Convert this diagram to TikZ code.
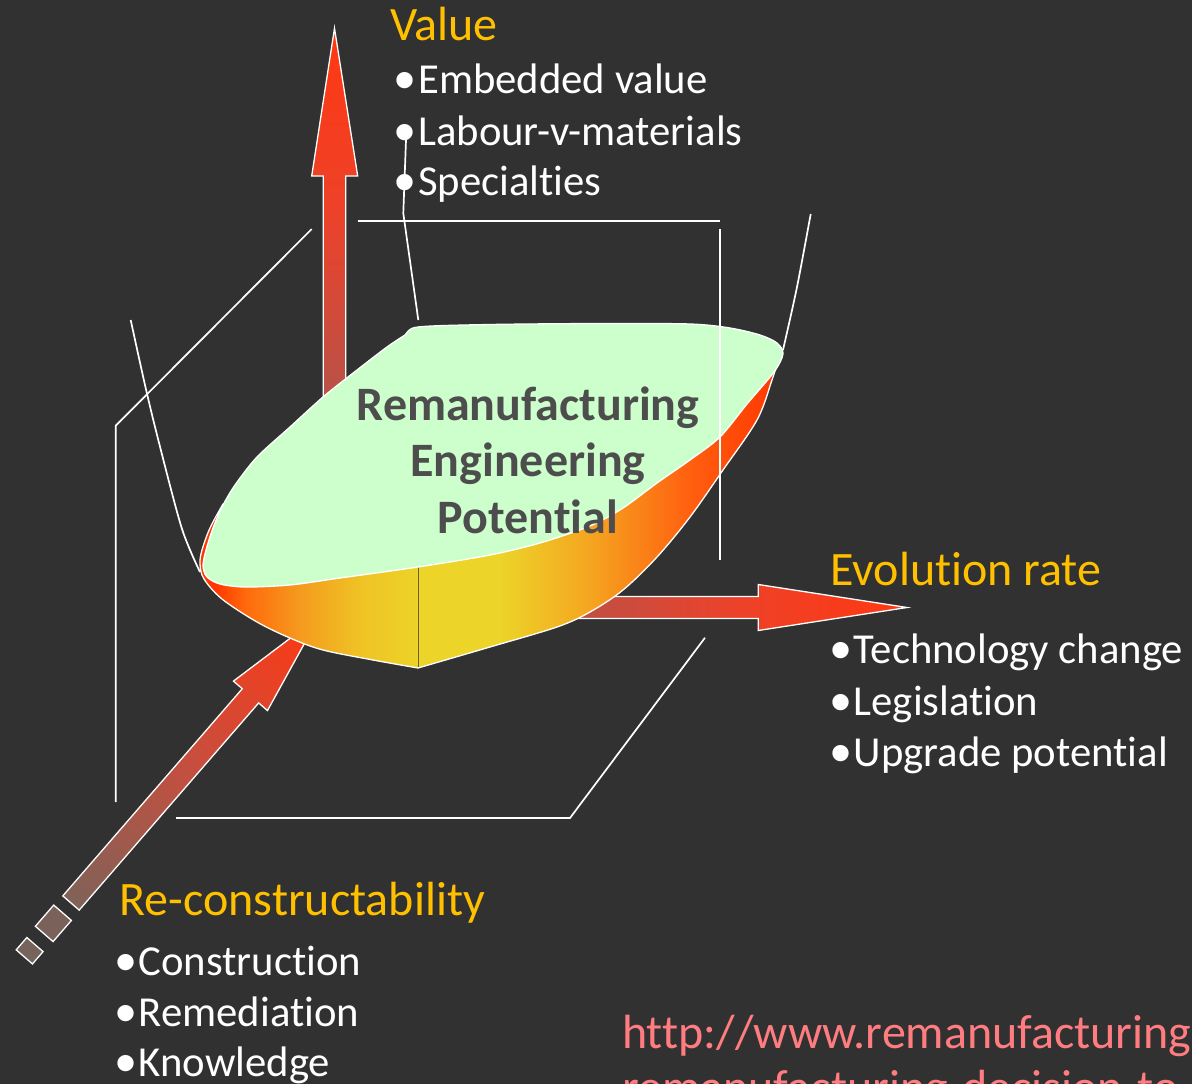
\documentclass[tikz,border=0pt]{standalone}
\usepackage{fontspec}
\setmainfont{Carlito}[Ligatures=NoCommon]
\newfontfamily\bulfont{Liberation Sans}
\definecolor{bg}{RGB}{49,49,49}
\definecolor{hd}{RGB}{255,192,0}
\definecolor{gr}{RGB}{204,255,204}
\definecolor{tg}{RGB}{77,77,77}
\definecolor{urlc}{RGB}{255,124,128}
\definecolor{bR}{RGB}{255,56,0}
\definecolor{bOa}{RGB}{255,105,12}
\definecolor{bOb}{RGB}{245,155,30}
\definecolor{bYa}{RGB}{239,195,36}
\definecolor{bY}{RGB}{236,212,40}
\definecolor{bOc}{RGB}{245,165,32}
\definecolor{bOd}{RGB}{255,95,15}
\definecolor{aTip}{RGB}{255,56,18}
\definecolor{aMid}{RGB}{236,66,42}
\definecolor{aBase}{RGB}{184,82,72}
\definecolor{aTail}{RGB}{128,98,88}
\definecolor{aRMid}{RGB}{200,78,62}
\definecolor{blkA}{RGB}{122,98,90}
\definecolor{blkB}{RGB}{118,100,92}
\definecolor{seam}{RGB}{110,95,45}
\tikzset{
 frame/.style={draw=white, line width=1.7pt},
 arrowbody/.style={draw=white, line width=1.3pt, line join=miter},
 heading/.style={text=hd, font=\fontsize{48}{57}\selectfont, inner sep=0pt, anchor=base west},
 item/.style={text=white, font=\fontsize{42.7}{51}\selectfont, inner sep=0pt, anchor=base west},
 title/.style={text=tg, font=\bfseries\fontsize{48}{57}\selectfont, inner sep=0pt, anchor=base},
 link/.style={text=urlc, font=\fontsize{48}{57}\selectfont, inner sep=0pt, anchor=base west},
}
\newcommand{\bul}{\llap{\smash{\raisebox{-7pt}{\bulfont\fontsize{60}{60}\selectfont\textbullet}}\kern2.5pt}}
\def\bowlpath{plot[smooth, tension=0.55] coordinates {(223,504) (210,528) (202,550) (200,564) (204,579) (222,599) (257,622) (290,638) (323,650) (373,660) (418,668)} -- plot[smooth, tension=0.55] coordinates {(418,668) (490,647) (557,627) (590,612) (623,590) (657,557) (690,517) (723,470) (757,420) (772,380) (779,358)} -- (765,358) -- (600,420) -- (300,520) -- cycle}
\begin{document}
\begin{tikzpicture}[x=1pt,y=-1pt]
\useasboundingbox (0,0) rectangle (1192,1084);
\clip (0,0) rectangle (1192,1084);
\fill[bg] (0,0) rectangle (1192,1084);

% Value arrow
\shade[arrowbody, top color=aTip, bottom color=aBase, middle color=aMid]
 (323.3,400) -- (323.3,176) -- (311.7,176) -- (334.5,28.3) -- (357.7,176) -- (345.7,176) -- (345.7,400) -- cycle;

% Evolution arrow
\shade[arrowbody, left color=aBase, right color=aTip, middle color=aMid]
 (560,596.5) -- (758.3,596.5) -- (758.3,584.5) -- (907,607.5) -- (758.3,630.5) -- (758.3,618.5) -- (560,618.5) -- cycle;

% Re-constructability arrow
\begin{scope}[transform canvas={shift={(71,903)}, rotate=49.1}]
\shade[arrowbody, left color=aTail, right color=aTip, middle color=aRMid]
 (0,-10.85) -- (274.1,-10.85) -- (274.1,-22.5) -- (379.6,0) -- (274.1,22.5) -- (274.1,10.85) -- (0,10.85) -- cycle;
\filldraw[fill=blkA, draw=white, line width=1.3pt] (-40.9,-11.7) rectangle (-12.9,11.7);
\filldraw[fill=blkB, draw=white, line width=1.3pt] (-71.3,-10.75) rectangle (-55,10.75);
\end{scope}

% Bowl
\begin{scope}
\clip \bowlpath;
\fill[bR] (190,300) rectangle (215.5,700);
\shade[left color=bR, right color=bOa] (215,300) rectangle (245.5,700);
\shade[left color=bOa, right color=bOb] (245,300) rectangle (300.5,700);
\shade[left color=bOb, right color=bYa] (300,300) rectangle (360.5,700);
\shade[left color=bYa, right color=bY] (360,300) rectangle (420.5,700);
\fill[bY] (420,300) rectangle (500.5,700);
\shade[left color=bY, right color=bOc] (500,300) rectangle (590.5,700);
\shade[left color=bOc, right color=bOd] (590,300) rectangle (690.5,700);
\shade[left color=bOd, right color=bR] (690,300) rectangle (775.5,700);
\fill[bR] (775,300) rectangle (800,700);
\end{scope}
\draw[white, line width=1.3pt] \bowlpath;
\draw[seam, line width=1pt] (418.3,566) -- (418.3,667);

% Green top
\filldraw[fill=gr, draw=white, line width=1.3pt] plot[smooth cycle, tension=0.5] coordinates {
 (418,327) (490,324.5) (600,323.5) (690,324) (730,328) (760,335) (777,343) (783,354)
 (774,372) (747,404) (720,437) (690,460) (657,483) (623,508) (590,526) (540,543)
 (490,555) (418,567) (340,578) (290,585) (245,587) (220,584) (207,577) (203,566)
 (206,550) (213,528) (222,507) (235,485) (257,457) (290,427) (323,397) (357,370)
 (387,347) (405,335)};

% Frame lines
\draw[frame] (357.7,220.7) -- (720,220.7);
\draw[frame] (720,229.3) -- (720,560);
\draw[frame] (311.7,229) -- (115.7,425.7) -- (115.7,802);
\draw[frame] plot[smooth] coordinates {(130.7,320) (145,385) (158.3,440) (181.7,528) (200,572)};
\draw[frame] plot[smooth] coordinates {(810.7,214) (797,287) (783,350)};
\draw[frame] (406,140) -- (403.3,213.3) -- (418.3,320);
\draw[frame] (176,818) -- (570,818) -- (705,637.7);

% Titles
\node[title] (t1) at (528,420) {Remanufacturing};
\node[title] (t2) at (528,476.7) {Engineering};
\node[title] (t3) at (528,533) {Potential};

% Value
\node[heading] (val) at (390,40) {Value};
\node[item] (v1) at (418,93.3) {\bul Embedded value};
\node[item] (v2) at (418,145) {\bul Labour-v-materials};
\node[item] (v3) at (418,195) {\bul Specialties};

% Evolution rate
\node[heading] (evo) at (830,585) {Evolution rate};
\node[item] (e1) at (853.5,663.3) {\bul Technology change};
\node[item] (e2) at (853.5,715) {\bul Legislation};
\node[item] (e3) at (853.5,766.7) {\bul Upgrade potential};

% Re-constructability
\node[heading] (rec) at (119.5,915) {Re-constructability};
\node[item] (r1) at (138.5,975) {\bul Construction};
\node[item] (r2) at (138.5,1026.7) {\bul Remediation};
\node[item] (r3) at (138.5,1076.7) {\bul Knowledge};

% URL
\node[link] (u1) at (622,1048) {http://www.remanufacturing};
\node[link] (u2) at (622,1103) {remanufacturing-decision-to};
\end{tikzpicture}
\end{document}
